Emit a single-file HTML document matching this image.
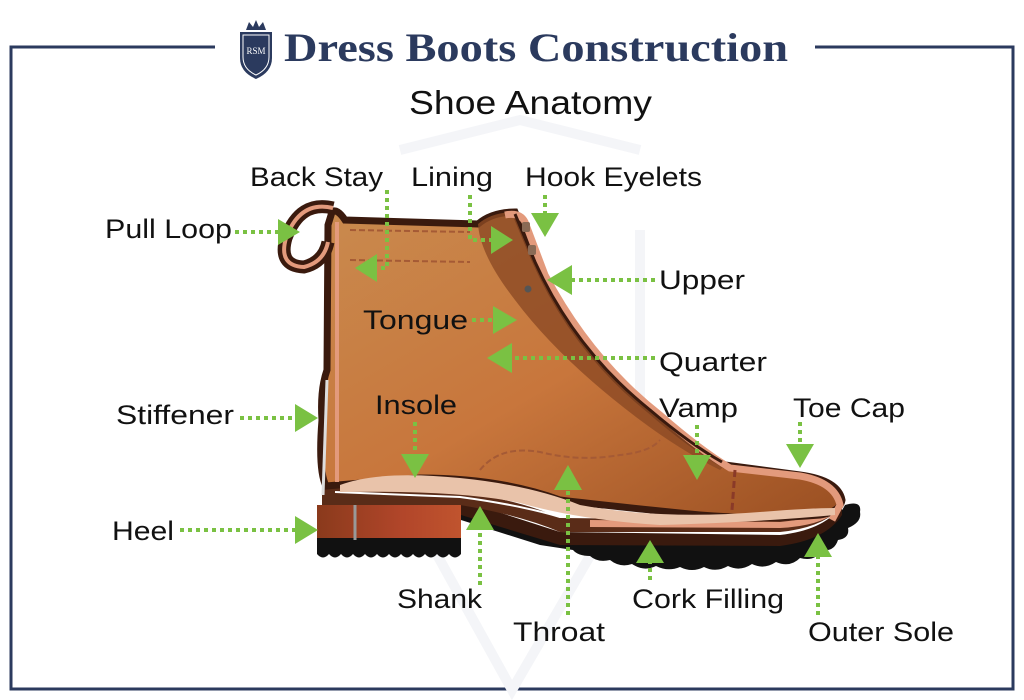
<!DOCTYPE html>
<html><head><meta charset="utf-8"><style>
html,body{margin:0;padding:0;background:#fff;}
svg{display:block;}
</style></head><body>
<svg width="1024" height="700" viewBox="0 0 1024 700" xmlns="http://www.w3.org/2000/svg" style="font-family:'Liberation Sans',sans-serif">
<defs>
<linearGradient id="bg" x1="0" y1="0" x2="1" y2="1">
<stop offset="0" stop-color="#c98a4e"/><stop offset="0.5" stop-color="#c8763c"/><stop offset="1" stop-color="#9a4f22"/>
</linearGradient>
<linearGradient id="hl" x1="0" y1="0" x2="1" y2="0">
<stop offset="0" stop-color="#8a3a1c"/><stop offset="0.6" stop-color="#b2462a"/><stop offset="1" stop-color="#c0542e"/>
</linearGradient>
</defs>
<g stroke="#2b3a5e" stroke-width="3" fill="none">
<path d="M215,47 L11,47 L11,689 L1013,689 L1013,47 L815,47"/>
</g>
<g>
<path d="M240,32 L272,32 L272,58 Q272,72 256,79 Q240,72 240,58 Z" fill="#2b3a5e"/>
<path d="M243,35 L269,35 L269,57 Q269,69 256,75 Q243,69 243,57 Z" fill="none" stroke="#fff" stroke-width="1"/>
<text x="256" y="54" font-size="9" fill="#fff" text-anchor="middle" style="font-family:'Liberation Serif',serif">RSM</text>
<path d="M246,30 L249,22 L253,27 L256,20 L259,27 L263,22 L266,30 Z" fill="#2b3a5e"/>
</g>
<text x="284" y="61" font-size="40" font-weight="bold" fill="#2b3a5e" style="font-family:'Liberation Serif',serif" textLength="504" lengthAdjust="spacingAndGlyphs">Dress Boots Construction</text>
<text x="409" y="114" font-size="33" fill="#111" textLength="243" lengthAdjust="spacingAndGlyphs">Shoe Anatomy</text>
<g stroke="#f4f5f8" stroke-width="10" fill="none">
<path d="M400,150 L520,120 L640,150"/>
<path d="M390,230 L390,470 L512,690 L640,470 L640,230"/>
</g>

<rect x="317" y="505" width="144" height="40" fill="url(#hl)"/>
<path d="M317,538 L461,538 L461,554 Q455,561 449,554 Q443,561 437,554 Q431,561 425,554 Q419,561 413,554 Q407,561 401,554 Q395,561 389,554 Q383,561 377,554 Q371,561 365,554 Q359,561 353,554 Q347,561 341,554 Q335,561 329,554 Q323,561 317,554 Z" fill="#111"/>
<line x1="355" y1="505" x2="355" y2="540" stroke="#999" stroke-width="3"/>
<path d="M461,500 L560,535 L780,540 Q830,535 845,505 Q862,500 860,512 Q862,522 848,528 Q850,538 838,540 Q834,552 822,550 Q815,562 800,558 Q790,568 776,562 Q764,570 752,564 Q740,572 728,566 Q716,573 704,567 Q692,573 680,567 Q668,572 656,566 Q644,572 632,564 Q620,568 610,560 Q598,563 590,556 Q578,556 573,550 L540,545 L461,520 Z" fill="#111"/>
<path d="M461,500 L560,532 L780,535 Q825,530 842,505 L842,515 Q826,540 780,546 L560,545 L461,515 Z" fill="#3a1a0e"/>
<path d="M322,485 L460,492 Q520,500 560,518 L780,520 Q820,515 838,500 L838,510 Q820,528 780,532 L560,532 Q520,515 460,505 L322,505 Z" fill="#5a2c18"/>
<path d="M590,520 L780,522 Q820,518 838,505 L838,511 Q820,526 780,528 L590,527 Z" fill="#e39a7c"/>
<path d="M335,492 L460,497 Q520,505 560,517" stroke="#fff" stroke-width="2" fill="none"/>
<path d="M332,212 Q337,208 345,220 L478,224 Q492,212 515,212 L535,260 Q575,350 650,410 Q690,445 725,465 L800,475 Q838,480 842,500 Q840,512 820,515 Q760,520 700,515 Q600,505 560,500 Q500,478 420,478 L326,486 Q318,470 322,420 Q320,390 327,370 L328,225 Z" fill="url(#bg)" stroke="#3a1a0e" stroke-width="7"/>
<path d="M478,224 Q492,212 515,212 L535,260 Q575,350 650,410 Q690,445 725,465 L720,470 Q680,450 640,420 Q560,360 515,300 Q480,255 478,224 Z" fill="#8c4a24" opacity="0.8"/>
<path d="M505,215 Q520,212 525,222 L545,275 Q590,360 660,415 Q700,450 730,468 L800,476 Q835,482 840,505 L832,520" fill="none" stroke="#e39a7c" stroke-width="7"/>
<path d="M515,214 L535,262 Q575,350 650,410 Q690,444 722,462" fill="none" stroke="#3a1a0e" stroke-width="3"/>
<path d="M340,485 Q380,470 460,478 Q530,485 580,505 Q660,520 760,512 Q810,508 835,508 L835,515 Q760,522 660,525 Q580,520 520,503 Q460,490 340,492 Z" fill="#e9c3aa"/>
<path d="M333,208 Q300,200 286,238 Q278,266 304,267 Q324,262 328,242" fill="none" stroke="#3a1a0e" stroke-width="13"/>
<path d="M333,208 Q300,200 286,238 Q278,266 304,267 Q324,262 328,242" fill="none" stroke="#e39a7c" stroke-width="4"/>
<path d="M337,222 L337,482" stroke="#e39a7c" stroke-width="4"/>
<path d="M327,380 L323,495" stroke="#ddd" stroke-width="3"/>
<g stroke="#a55a35" stroke-width="2" stroke-dasharray="6,3" fill="none">
<path d="M350,230 L470,232"/><path d="M350,260 L470,262"/>
<path d="M480,470 Q500,445 540,452 Q580,462 620,455 Q650,452 660,440"/>
</g>
<path d="M735,470 L732,510" stroke="#8a3a28" stroke-width="3" stroke-dasharray="7,4"/>
<rect x="522" y="222" width="8" height="10" rx="2" fill="#8a6a55"/>
<rect x="528" y="245" width="8" height="10" rx="2" fill="#8a6a55"/>
<circle cx="528" cy="289" r="3.5" fill="#555"/>

<g stroke="#7ac143" stroke-width="4" stroke-dasharray="4,4" fill="none">
<path d="M387,190 L387,268 L372,268"/>
<path d="M470,195 L470,240 L492,240"/>
<path d="M545,195 L545,215"/>
<path d="M235,232 L280,232"/>
<path d="M655,280 L570,280"/>
<path d="M472,320 L495,320"/>
<path d="M655,358 L512,358"/>
<path d="M240,418 L298,418"/>
<path d="M415,422 L415,455"/>
<path d="M697,425 L697,455"/>
<path d="M800,422 L800,445"/>
<path d="M180,530 L298,530"/>
<path d="M480,585 L480,528"/>
<path d="M568,615 L568,490"/>
<path d="M650,580 L650,562"/>
<path d="M818,615 L818,556"/>
</g>
<g fill="#7ac143">
<path d="M355,268 L377,254 L377,282 Z"/>
<path d="M513,240 L491,226 L491,254 Z"/>
<path d="M545,237 L531,213 L559,213 Z"/>
<path d="M300,232 L278,219 L278,245 Z"/>
<path d="M547,280 L572,265 L572,295 Z"/>
<path d="M517,320 L493,306 L493,334 Z"/>
<path d="M487,358 L512,343 L512,373 Z"/>
<path d="M318,418 L295,404 L295,432 Z"/>
<path d="M415,478 L401,454 L429,454 Z"/>
<path d="M697,480 L683,455 L711,455 Z"/>
<path d="M800,468 L786,444 L814,444 Z"/>
<path d="M318,530 L295,516 L295,544 Z"/>
<path d="M480,506 L466,530 L494,530 Z"/>
<path d="M568,465 L554,490 L582,490 Z"/>
<path d="M650,540 L636,563 L664,563 Z"/>
<path d="M818,533 L804,557 L832,557 Z"/>
</g>

<g font-size="27" fill="#111" lengthAdjust="spacingAndGlyphs">
<text x="250" y="186" textLength="133" lengthAdjust="spacingAndGlyphs">Back Stay</text>
<text x="411" y="186" textLength="82" lengthAdjust="spacingAndGlyphs">Lining</text>
<text x="525" y="186" textLength="177" lengthAdjust="spacingAndGlyphs">Hook Eyelets</text>
<text x="105" y="238" textLength="127" lengthAdjust="spacingAndGlyphs">Pull Loop</text>
<text x="659" y="289" textLength="86" lengthAdjust="spacingAndGlyphs">Upper</text>
<text x="363" y="329" textLength="105" lengthAdjust="spacingAndGlyphs">Tongue</text>
<text x="659" y="371" textLength="108" lengthAdjust="spacingAndGlyphs">Quarter</text>
<text x="116" y="424" textLength="118" lengthAdjust="spacingAndGlyphs">Stiffener</text>
<text x="375" y="414" textLength="82" lengthAdjust="spacingAndGlyphs">Insole</text>
<text x="659" y="417" textLength="79" lengthAdjust="spacingAndGlyphs">Vamp</text>
<text x="793" y="417" textLength="112" lengthAdjust="spacingAndGlyphs">Toe Cap</text>
<text x="112" y="540" textLength="62" lengthAdjust="spacingAndGlyphs">Heel</text>
<text x="397" y="608" textLength="85" lengthAdjust="spacingAndGlyphs">Shank</text>
<text x="513" y="641" textLength="92" lengthAdjust="spacingAndGlyphs">Throat</text>
<text x="632" y="608" textLength="152" lengthAdjust="spacingAndGlyphs">Cork Filling</text>
<text x="808" y="641" textLength="146" lengthAdjust="spacingAndGlyphs">Outer Sole</text>
</g>
</svg>
</body></html>
